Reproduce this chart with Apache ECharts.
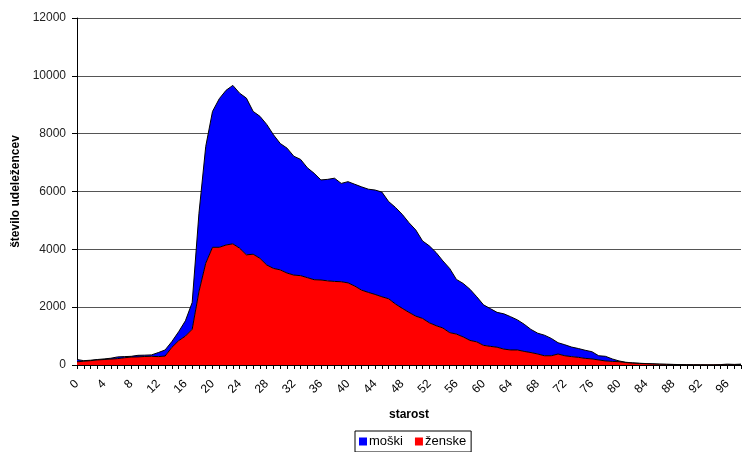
<!DOCTYPE html>
<html><head><meta charset="utf-8">
<script src="https://cdn.jsdelivr.net/npm/echarts@6/dist/echarts.min.js"></script>
<style>html,body{margin:0;padding:0;background:#fff}#c{width:744px;height:452px}</style>
</head><body><div id="c"></div>
<script>
const ages = Array.from({length: 99}, (_, i) => String(i));
const zenske = [110,130,150,175,190,205,220,250,275,280,295,300,290,310,610,840,1000,1235,2540,3520,
  4070,4070,4150,4190,4040,3810,3830,3690,3460,3340,3290,3180,3110,3090,3020,2950,2940,2910,2890,2880,
  2840,2730,2590,2510,2440,2360,2290,2110,1960,1820,1690,1610,1460,1360,1280,1120,1070,970,850,800,
  680,645,615,550,520,520,470,430,380,320,320,380,320,290,265,230,210,175,140,125,
  115,85,65,55,45,35,28,22,18,12,10,8,6,5,5,8,15,10,15];
const moski = [80,20,15,15,20,30,60,40,25,55,45,50,140,210,200,310,530,925,2710,4040,
  4700,5140,5350,5480,5360,5420,4940,4910,4860,4620,4370,4320,4110,4020,3800,3680,3460,3510,3570,3400,
  3500,3520,3570,3570,3610,3620,3360,3340,3250,3100,2980,2680,2660,2530,2320,2220,1890,1850,1770,1560,
  1400,1305,1205,1220,1150,1040,940,800,720,710,600,390,380,330,305,280,250,145,160,85,
  25,10,10,5,5,5,2,3,2,3,2,2,2,1,1,7,15,10,15];
const yTicks = [0,2000,4000,6000,8000,10000,12000];

const chart = echarts.init(document.getElementById('c'), null, {renderer:'canvas'});
const font = 'Arial, "Liberation Sans", sans-serif';
chart.setOption({
  animation: false,
  textStyle: {fontFamily: font},
  grid: {left: 77, right: 3, top: 18, bottom: 87, containLabel: false},
  legend: {
    data: ['moški', 'ženske'], bottom: 0, left: 355,
    icon: 'rect', itemWidth: 8, itemHeight: 8, itemGap: 12,
    borderColor: '#000', borderWidth: 1, padding: [4, 5, 4, 4],
    textStyle: {fontSize: 13, color: '#000', fontFamily: font, padding: [0,0,0,-3]}
  },
  xAxis: {
    type: 'category', data: ages, boundaryGap: false,
    name: 'starost', nameLocation: 'middle', nameGap: 44,
    nameTextStyle: {fontWeight: 'bold', fontSize: 12, color: '#000'},
    axisLine: {lineStyle: {color: '#000', width: 1}},
    axisTick: {interval: 0, length: 4, lineStyle: {color: '#000'}},
    axisLabel: {interval: 3, rotate: 45, fontSize: 12, color: '#000', margin: 17}
  },
  yAxis: {
    type: 'value', min: yTicks[0], max: yTicks[yTicks.length - 1], interval: 2000,
    name: 'število udeležencev', nameLocation: 'middle', nameGap: 53, nameRotate: 90,
    nameTextStyle: {fontWeight: 'bold', fontSize: 12, color: '#000'},
    axisLine: {show: true, lineStyle: {color: '#000'}},
    axisTick: {show: true, length: 5, lineStyle: {color: '#000'}},
    axisLabel: {fontSize: 12, color: '#222', margin: 11, formatter: v => String(v)},
    splitLine: {lineStyle: {color: '#555', width: 1}}
  },
  series: [
    {name: 'ženske', type: 'line', stack: 't', data: zenske, symbol: 'none',
     lineStyle: {color: '#000', width: 1}, itemStyle: {color: '#ff0000'},
     areaStyle: {color: '#ff0000', opacity: 1}, z: 3},
    {name: 'moški', type: 'line', stack: 't', data: moski, symbol: 'none',
     lineStyle: {color: '#000', width: 1}, itemStyle: {color: '#0000ff'},
     areaStyle: {color: '#0000ff', opacity: 1}, z: 2}
  ]
});
</script></body></html>
